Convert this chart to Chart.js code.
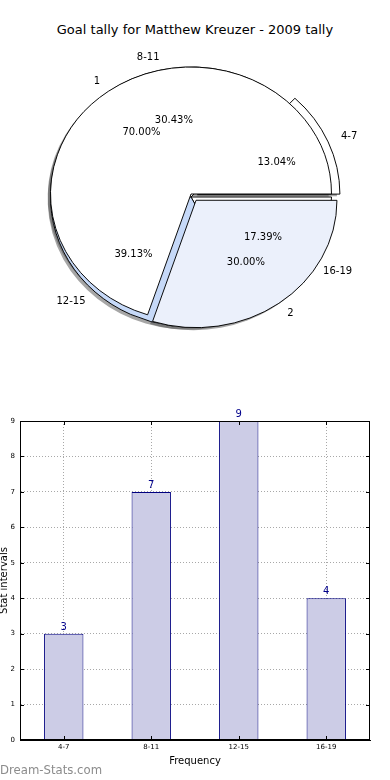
<!DOCTYPE html>
<html><head><meta charset="utf-8">
<script src="https://cdn.jsdelivr.net/npm/chart.js@4"></script>
<style>
html,body{margin:0;padding:0;background:#fff;width:390px;height:780px;overflow:hidden;font-family:"DejaVu Sans",sans-serif}
#title{position:absolute;left:0;top:22px;width:390px;text-align:center;font-size:13px;line-height:16px;color:#000}
canvas{position:absolute}
#pieA{left:0;top:2px}
#pieB{left:0;top:-1px}
#bar{left:0;top:390px}
#wm{position:absolute;left:0;top:763px;font-size:11.7px;line-height:14px;color:#8c8c8c}
</style></head><body>
<div id="title">Goal tally for Matthew Kreuzer - 2009 tally</div>
<canvas id="pieA" width="382" height="390"></canvas>
<canvas id="pieB" width="382" height="390"></canvas>
<canvas id="bar" width="390" height="390"></canvas>
<div id="wm">Dream-Stats.com</div>
<script>
// ---- data ----
const categories = ['4-7', '8-11', '12-15', '16-19'];
const tally = [3, 7, 9, 4];
const halfLabels = ['1', '2'];
const halfShares = [70, 30];
const yTicks = [0, 1, 2, 3, 4, 5, 6, 7, 8, 9];

// ---- style ----
const R = 140.5;
const TOP_A = 2, TOP_B = -1;            // canvas page offsets
const SY_A = 130 / 140.5, SY_B = 127 / 140.5;
const EXPLODE = 9;
const colorsA = ['#ffffff', '#ffffff', '#c6d9f8', '#ffffff'];
const colorsB = ['#ffffff', '#ebf0fb'];
const explodeA = [true, false, false, false];
const explodeB = [false, true];

const rev = a => a.slice().reverse();
function offsetsFor(values, flags) {
  const sum = values.reduce((s, v) => s + v, 0);
  return values.map((v, i) => flags[i]
    ? EXPLODE * 4 / (2 - Math.sin(Math.min(Math.PI, 2 * Math.PI * v / sum))) : 0);
}
function effOff(a) {
  return (a.options.offset || 0) / 4 * (2 - Math.sin(Math.min(Math.PI, a.endAngle - a.startAngle)));
}
let chartA = null, chartB = null;

// shadows of a chart's wedges drawn into ctx, with page->canvas shift dy
function drawShadows(ctx, chart, dy) {
  const sy = chart.options.plugins.ellipse.sy;
  chart.getDatasetMeta(0).data.forEach(a => {
    const o = effOff(a), m = (a.startAngle + a.endAngle) / 2;
    ctx.save();
    ctx.translate(a.x - 2.8, a.y + dy + 2.6);
    ctx.scale(1, sy);
    const x = Math.cos(m) * o, y = Math.sin(m) * o;
    ctx.beginPath(); ctx.moveTo(x, y);
    ctx.arc(x, y, a.outerRadius, a.startAngle, a.endAngle);
    ctx.closePath();
    ctx.fillStyle = 'rgba(77,77,77,0.5)';
    ctx.fill();
    ctx.restore();
  });
}

const ellipse = {
  id: 'ellipse',
  beforeDatasetsDraw(chart, args, opts) {
    const ctx = chart.ctx;
    if (opts.shadow) {
      drawShadows(ctx, chart, 0);
      if (chartB) drawShadows(ctx, chartB, TOP_B - TOP_A);
    }
    const a = chart.getDatasetMeta(0).data[0];
    ctx.save();
    ctx.translate(a.x, a.y); ctx.scale(1, opts.sy); ctx.translate(-a.x, -a.y);
  },
  afterDatasetsDraw(chart) { chart.ctx.restore(); }
};

function drawPieLabels(ctx, chart, dy) {
  const sy = chart.options.plugins.ellipse.sy;
  const meta = chart.getDatasetMeta(0);
  const vals = chart.data.datasets[0].data;
  const sum = vals.reduce((s, v) => s + v, 0);
  ctx.save();
  ctx.font = '10px "DejaVu Sans"';
  ctx.fillStyle = '#000';
  ctx.textBaseline = 'middle';
  meta.data.forEach((a, i) => {
    const m = (a.startAngle + a.endAngle) / 2, o = effOff(a), r = a.outerRadius;
    const c = Math.cos(m), s = Math.sin(m);
    let d = 1.1 * r + o;
    ctx.textAlign = c > 0 ? 'left' : 'right';
    ctx.fillText(chart.data.labels[i], a.x + c * d, a.y + dy + sy * s * d);
    d = 0.6 * r + o;
    ctx.textAlign = 'center';
    ctx.fillText((vals[i] / sum * 100).toFixed(2) + '%', a.x + c * d, a.y + dy + sy * s * d);
  });
  ctx.restore();
}
const pieLabels = {
  id: 'pieLabels',
  afterDatasetsDraw(chart) {
    if (chartA) drawPieLabels(chart.ctx, chartA, TOP_A - TOP_B);
    drawPieLabels(chart.ctx, chart, 0);
  }
};

function pieConfig(labels, values, colors, flags, sy, shadow, extra) {
  return {
    type: 'pie',
    data: {
      labels: rev(labels),
      datasets: [{
        data: rev(values),
        backgroundColor: rev(colors),
        borderColor: '#000',
        borderWidth: 1,
        offset: rev(offsetsFor(values, flags)),
        radius: R,
        clip: false
      }]
    },
    options: {
      responsive: false, animation: false, events: [],
      rotation: 90, radius: R,
      layout: { padding: 0 },
      plugins: { legend: { display: false }, tooltip: { enabled: false }, ellipse: { shadow, sy } }
    },
    plugins: extra ? [ellipse, extra] : [ellipse]
  };
}

chartA = new Chart(document.getElementById('pieA'), pieConfig(categories, tally, colorsA, explodeA, SY_A, true, null));
chartB = new Chart(document.getElementById('pieB'), pieConfig(halfLabels, halfShares, colorsB, explodeB, SY_B, false, pieLabels));
chartA.draw();
chartB.draw();

// ---- bar chart ----
const frame = {
  id: 'frame',
  afterDraw(chart) {
    const { ctx, chartArea: ca } = chart;
    const xs = chart.scales.x, ys = chart.scales.y;
    ctx.save();
    ctx.strokeStyle = '#000'; ctx.lineWidth = 1;
    ctx.strokeRect(Math.round(ca.left) + 0.5, Math.round(ca.top) + 0.5,
      Math.round(ca.right - ca.left) - 1, Math.round(ca.bottom - ca.top) - 1);
    ctx.beginPath();
    yTicks.forEach(v => {
      const y = Math.round(ys.getPixelForValue(v)) + 0.5;
      ctx.moveTo(ca.left, y); ctx.lineTo(ca.left + 4, y);
      ctx.moveTo(ca.right, y); ctx.lineTo(ca.right - 4, y);
    });
    categories.forEach((c, i) => {
      const x = Math.round(xs.getPixelForValue(i)) + 0.5;
      ctx.moveTo(x, ca.bottom); ctx.lineTo(x, ca.bottom - 4);
      ctx.moveTo(x, ca.top); ctx.lineTo(x, ca.top + 4);
    });
    ctx.stroke();
    ctx.restore();
  },
  afterDatasetsDraw(chart) {
    const ctx = chart.ctx;
    const meta = chart.getDatasetMeta(0);
    const vals = chart.data.datasets[0].data;
    ctx.save();
    ctx.font = '10px "DejaVu Sans"';
    ctx.fillStyle = '#00008b';
    ctx.textAlign = 'center';
    ctx.textBaseline = 'alphabetic';
    meta.data.forEach((b, i) => ctx.fillText(String(vals[i]), b.x, b.y - 4));
    ctx.restore();
  }
};

new Chart(document.getElementById('bar'), {
  type: 'bar',
  data: {
    labels: categories,
    datasets: [{
      data: tally,
      backgroundColor: '#cccce6',
      borderColor: '#000080',
      borderWidth: 1,
      barPercentage: 0.45,
      categoryPercentage: 1
    }]
  },
  options: {
    responsive: false, animation: false, events: [],
    layout: { padding: { left: 0, right: 20, top: 31, bottom: 0 } },
    plugins: { legend: { display: false }, tooltip: { enabled: false } },
    scales: {
      x: {
        z: 1,
        grid: { display: true, offset: false, color: '#a8a8a8', drawTicks: false },
        border: { display: true, color: '#000', dash: [1, 2] },
        ticks: { font: { family: 'DejaVu Sans', size: 7 }, color: '#000', padding: 3, maxRotation: 0 },
        title: { display: true, text: 'Frequency', font: { family: 'DejaVu Sans', size: 10 }, color: '#000', padding: { top: 0, bottom: 13 } },
        afterFit(s) { s.height = 40; }
      },
      y: {
        z: 1,
        min: 0, max: 9,
        afterBuildTicks(s) { s.ticks = yTicks.map(v => ({ value: v })); },
        grid: { display: true, color: '#a8a8a8', drawTicks: false },
        border: { display: true, color: '#000', dash: [1, 2] },
        ticks: { font: { family: 'DejaVu Sans', size: 7 }, color: '#000', padding: 5 },
        title: { display: true, text: 'Stat intervals', font: { family: 'DejaVu Sans', size: 10 }, color: '#000', padding: { top: -2, bottom: 0 } },
        afterFit(s) { s.width = 20; }
      }
    }
  },
  plugins: [frame]
});
</script>
</body></html>
